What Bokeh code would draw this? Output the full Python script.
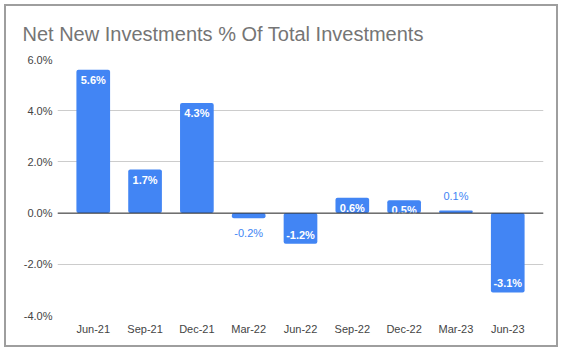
from bokeh.plotting import figure
from bokeh.layouts import column
from bokeh.models import ColumnDataSource, Span, PrintfTickFormatter, FixedTicker, Range1d, FactorRange
from bokeh.embed import file_html
from bokeh.resources import INLINE
from bokeh.core.properties import value

title_text = "Net New Investments % Of Total Investments"
categories = ["Jun-21", "Sep-21", "Dec-21", "Mar-22", "Jun-22", "Sep-22", "Dec-22", "Mar-23", "Jun-23"]
values = [5.6, 1.7, 4.3, -0.2, -1.2, 0.6, 0.5, 0.1, -3.1]
y_ticks = [-4, -2, 0, 2, 4, 6]

BLUE = "#4285F4"
FONT = "Liberation Sans"

labels = [f"{v:.1f}%" for v in values]
inside = [abs(v) >= 0.4 for v in values]


def subset(keep):
    idx = [i for i in range(len(values)) if keep(values[i], inside[i])]
    return ColumnDataSource(dict(x=[categories[i] for i in idx],
                                 y=[values[i] for i in idx],
                                 label=[labels[i] for i in idx]))


src = ColumnDataSource(dict(x=categories, top=values, label=labels))
in_pos = subset(lambda v, i: i and v >= 0)
in_neg = subset(lambda v, i: i and v < 0)
out_pos = subset(lambda v, i: (not i) and v >= 0)
out_neg = subset(lambda v, i: (not i) and v < 0)

p = figure(x_range=FactorRange(*categories, range_padding=0.19, range_padding_units="absolute"),
           y_range=Range1d(-4, 6),
           width=554, height=343, output_backend="svg", toolbar_location=None,
           min_border_left=51, min_border_right=17, min_border_top=3, min_border_bottom=34,
           title=title_text)
p.styles = {"border": "2px solid #9e9e9e"}

p.title.text_font = FONT
p.title.text_font_size = "20px"
p.title.text_font_style = "normal"
p.title.text_color = "#757575"
p.title.offset = -35
p.title.standoff = 29

p.vbar(x="x", top="top", bottom=0, width=0.65, source=src, color=BLUE, line_color=None,
       border_radius=2)

zero = Span(location=0, dimension="width", line_color="#333333", line_width=1)
p.add_layout(zero)

common = dict(text_font=value(FONT), text_font_size="11px", text_align="center", text_baseline="middle")
p.text(x="x", y="y", text="label", source=in_pos, text_color="white", text_font_style="bold",
       y_offset=10, **common)
p.text(x="x", y="y", text="label", source=in_neg, text_color="white", text_font_style="bold",
       y_offset=-9, **common)
p.text(x="x", y="y", text="label", source=out_pos, text_color=BLUE, y_offset=-15, **common)
p.text(x="x", y="y", text="label", source=out_neg, text_color=BLUE, y_offset=15, **common)

p.yaxis.ticker = FixedTicker(ticks=y_ticks)
p.yaxis.formatter = PrintfTickFormatter(format="%.1f%%")
for ax in (p.xaxis, p.yaxis):
    ax.axis_line_color = None
    ax.major_tick_line_color = None
    ax.minor_tick_line_color = None
    ax.major_tick_out = 0
    ax.major_tick_in = 0
    ax.minor_tick_out = 0
    ax.minor_tick_in = 0
    ax.major_label_text_font = FONT
    ax.major_label_text_font_size = "11px"
    ax.major_label_text_color = "#444444"
p.xaxis.major_label_standoff = 7
p.yaxis.major_label_standoff = 5

p.xgrid.grid_line_color = None
p.ygrid.grid_line_color = "#cccccc"
p.outline_line_color = None

layout = column(p, styles={"padding": "4px 0 0 4px"})

open("out.html", "w").write(file_html(layout, INLINE))
